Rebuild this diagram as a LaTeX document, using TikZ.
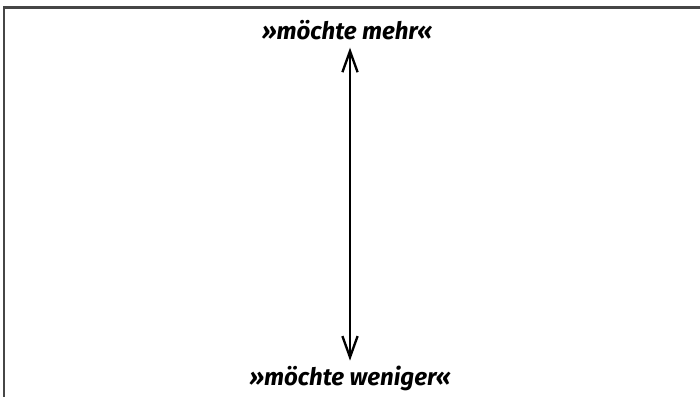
\documentclass[tikz,border=0pt]{standalone}
\usepackage{fontspec}
\setmainfont{Fira Sans}
\usetikzlibrary{arrows.meta,positioning}
\definecolor{framegray}{RGB}{70,70,70}

\begin{document}
\begin{tikzpicture}[x=0.03cm,y=-0.03cm,
    label/.style={font=\fontsize{20.5}{24}\selectfont\bfseries\itshape,inner sep=0pt,anchor=base},
    frame/.style={draw=framegray,line width=1.8pt},
    scale arrow/.style={{Straight Barb[length=18pt,width=13pt]}-{Straight Barb[length=18pt,width=13pt]},line width=2pt}]
    \useasboundingbox (0,0) rectangle (700,397);
    \draw[frame] (4,420) |- (720,7.5);
    \coordinate (axis) at (350,0);
    \node[label] (mehr) at (347,40) {»möchte mehr«};
    \node[label] (weniger) at (350,385) {»möchte weniger«};
    \draw[scale arrow,shorten <=4pt,shorten >=6pt] (weniger.north -| axis) -- (mehr.south -| axis);
  \end{tikzpicture}
\end{document}
